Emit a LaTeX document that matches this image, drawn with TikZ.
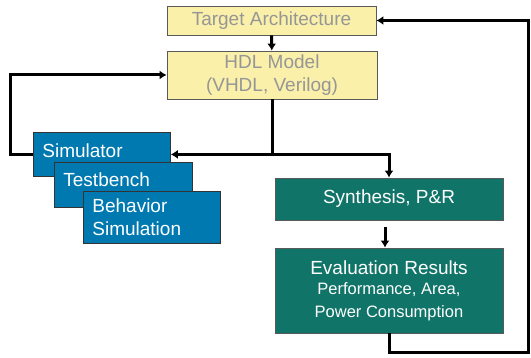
\documentclass[tikz,border=0pt]{standalone}
\usepackage{fontspec}
\setmainfont{Liberation Sans}
\usetikzlibrary{arrows.meta}
\definecolor{hdlyellow}{RGB}{250,240,170}
\definecolor{hdlgrey}{RGB}{150,150,150}
\definecolor{simblue}{RGB}{0,121,176}
\definecolor{synteal}{RGB}{16,116,104}
\begin{document}
\begin{tikzpicture}[
  x=1pt, y=-1pt,
  every node/.style={inner sep=0pt, font=\fontsize{19}{23}\selectfont},
  ybox/.style={draw=black!65, line width=0.8pt, fill=hdlyellow, text=hdlgrey, align=center},
  bbox/.style={draw=black!80, line width=0.8pt, fill=simblue, text=white, align=left,
               anchor=north west, inner xsep=9pt},
  gbox/.style={draw=black!65, line width=0.8pt, fill=synteal, text=white, align=center},
  % thick black connectors, one arrow kind
  arrow/.style={draw, line width=3pt, -{Latex[length=7pt,width=9pt]}},
  line/.style={draw, line width=3pt}]

  \useasboundingbox (0,0) rectangle (531,358);

  % vertices
  \node[ybox, minimum width=209, minimum height=29] (target) at (271.5,20.5) {Target Architecture};
  \node[ybox, minimum width=210, minimum height=48] (hdl) at (272,75) {HDL Model\\(VHDL, Verilog)};

  \node[bbox, text width=119, text height=25, text depth=19] (sim) at (33,132) {Simulator};
  \node[bbox, text width=120, text height=24, text depth=21] (tb) at (54,162) {Testbench};
  \node[bbox, text width=119, minimum height=52] (beh) at (83,191) {Behavior\\Simulation};

  \node[gbox, minimum width=228, minimum height=42] (synth) at (389,199) {Synthesis, P\&R};
  \node[gbox, minimum width=228, minimum height=85] (eval) at (389,290.5)
    {Evaluation Results\\[-3pt]{\fontsize{16.5}{20}\selectfont Performance, Area,}\\
     {\fontsize{16.5}{20}\selectfont Power Consumption}};

  \coordinate (split) at (hdl.south |- sim.east);
  \coordinate (corner) at (528.5,353);

  % arrows
  \draw[arrow] (target) -- (hdl);
  \draw[arrow] (hdl.south) |- (sim.east);
  \draw[arrow] (split) -| (synth.north);
  \draw[arrow, shorten <=7pt] ([xshift=-4pt]synth.south) -- ([xshift=-4pt]eval.north);
  \draw[arrow] (sim.west) -- ++(-23,0) |- (hdl.west);
  \draw[arrow] (eval.south) |- (corner) |- (target.east);
\end{tikzpicture}
\end{document}
